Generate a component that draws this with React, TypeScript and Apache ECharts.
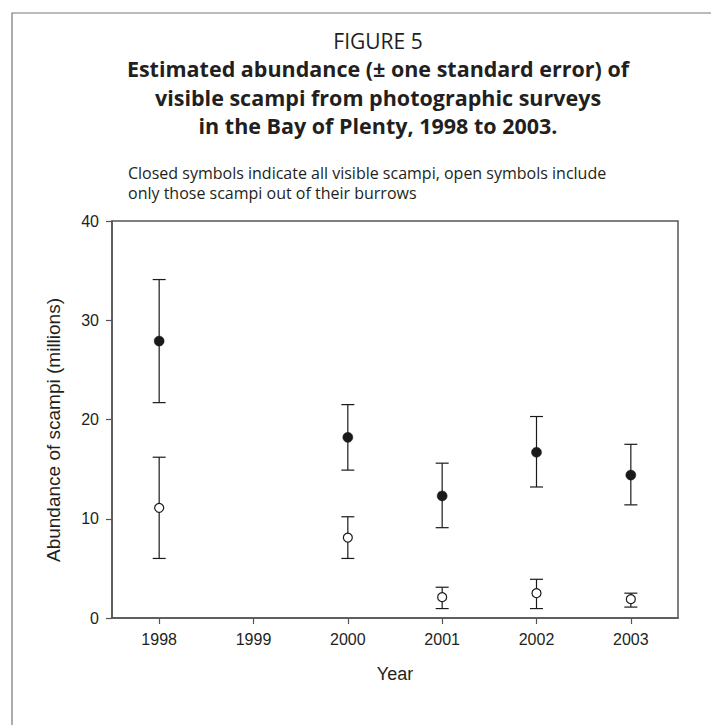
import React, { useEffect, useRef } from "react";
import * as echarts from "echarts";

const years = ["1998", "1999", "2000", "2001", "2002", "2003"];
const dataYears = ["1998", "2000", "2001", "2002", "2003"];
const closedMean = [27.9, 18.2, 12.3, 16.7, 14.4];
const closedLow = [21.7, 14.9, 9.1, 13.2, 11.4];
const closedHigh = [34.1, 21.5, 15.6, 20.3, 17.5];
const openMean = [11.1, 8.1, 2.1, 2.5, 1.9];
const openLow = [6.0, 6.0, 0.95, 0.95, 1.1];
const openHigh = [16.2, 10.2, 3.1, 3.9, 2.5];
const yTicks = [0, 10, 20, 30, 40];

const figureLabel = "FIGURE 5";
const titleLines = [
  "Estimated abundance (± one standard error) of",
  "visible scampi from photographic surveys",
  "in the Bay of Plenty, 1998 to 2003.",
];
const noteLines = [
  "Closed symbols indicate all visible scampi, open symbols include",
  "only those scampi out of their burrows",
];
const yName = "Abundance of scampi (millions)";
const xName = "Year";

const TEXT = "#231f20";
const AXIS = "#555555";
const SANS = "'Open Sans', 'Noto Sans', sans-serif";
const ARIAL = "'Liberation Sans', Arial, sans-serif";

function errorBarSeries(low: number[], high: number[]) {
  const data = dataYears.map((y, i) => [y, low[i], high[i]]);
  return {
    type: "custom",
    data,
    z: 2,
    encode: { x: 0, y: [1, 2] },
    renderItem: (params: any, api: any) => {
      const x = api.value(0);
      const lo = api.coord([x, api.value(1)]);
      const hi = api.coord([x, api.value(2)]);
      const hw = 6.5;
      const style = { stroke: "#1a1a1a", lineWidth: 1.2 };
      return {
        type: "group",
        children: [
          { type: "line", shape: { x1: lo[0], y1: lo[1], x2: hi[0], y2: hi[1] }, style },
          { type: "line", shape: { x1: lo[0] - hw, y1: lo[1], x2: lo[0] + hw, y2: lo[1] }, style },
          { type: "line", shape: { x1: hi[0] - hw, y1: hi[1], x2: hi[0] + hw, y2: hi[1] }, style },
        ],
      };
    },
  };
}

export default function App() {
  const ref = useRef<HTMLDivElement>(null);
  useEffect(() => {
    if (!ref.current) return;
    const chart = echarts.init(ref.current, undefined, { renderer: "svg" });
    const graphics: any[] = [
      {
        type: "rect",
        shape: { x: 12, y: 13, width: 740, height: 760 },
        style: { fill: "none", stroke: "#777777", lineWidth: 1.2 },
        silent: true,
      },
      {
        type: "text",
        x: 378,
        y: 40.5,
        style: { text: figureLabel, font: `400 21px ${SANS}`, fill: TEXT, align: "center", verticalAlign: "middle" },
      },
    ];
    const titleBase = [77, 105.5, 134];
    titleLines.forEach((t, i) => {
      graphics.push({
        type: "text",
        x: 378,
        y: titleBase[i] - 8.2,
        style: { text: t, font: `700 21.5px ${SANS}`, fill: TEXT, align: "center", verticalAlign: "middle" },
      });
    });
    const noteBase = [179, 199];
    noteLines.forEach((t, i) => {
      graphics.push({
        type: "text",
        x: 128,
        y: noteBase[i] - 6,
        style: { text: t, font: `400 16px ${SANS}`, fill: TEXT, align: "left", verticalAlign: "middle" },
      });
    });
    graphics.push({
      type: "text",
      x: 53,
      y: 430,
      rotation: Math.PI / 2,
      style: { text: yName, font: `400 19px ${ARIAL}`, fill: TEXT, align: "center", verticalAlign: "middle" },
    });

    chart.setOption({
      animation: false,
      backgroundColor: "#ffffff",
      grid: {
        left: 112,
        right: 33,
        top: 221,
        bottom: 107,
        show: true,
        borderColor: AXIS,
        borderWidth: 1.5,
        backgroundColor: "transparent",
      },
      xAxis: {
        type: "category",
        data: years,
        boundaryGap: true,
        axisLine: { show: true, lineStyle: { color: AXIS, width: 1.5 } },
        axisTick: { show: true, alignWithLabel: true, length: 6, lineStyle: { color: AXIS, width: 1.2 } },
        axisLabel: { color: TEXT, fontSize: 16, fontFamily: ARIAL, margin: 13 },
        splitLine: { show: false },
        name: xName,
        nameLocation: "middle",
        nameGap: 47,
        nameTextStyle: { color: TEXT, fontSize: 18, fontFamily: ARIAL },
      },
      yAxis: {
        type: "value",
        min: yTicks[0],
        max: yTicks[yTicks.length - 1],
        interval: 10,
        axisLine: { show: true, lineStyle: { color: AXIS, width: 1.5 } },
        axisTick: { show: true, length: 6, lineStyle: { color: AXIS, width: 1.2 } },
        axisLabel: { color: TEXT, fontSize: 16, fontFamily: ARIAL, margin: 13 },
        splitLine: { show: false },
      },
      graphic: graphics,
      series: [
        errorBarSeries(closedLow, closedHigh),
        errorBarSeries(openLow, openHigh),
        {
          type: "scatter",
          z: 3,
          data: dataYears.map((y, i) => [y, closedMean[i]]),
          symbol: "circle",
          symbolSize: 10,
          itemStyle: { color: "#1a1a1a", borderColor: "#1a1a1a", borderWidth: 0.5, opacity: 1 },
        },
        {
          type: "scatter",
          z: 3,
          data: dataYears.map((y, i) => [y, openMean[i]]),
          symbol: "circle",
          symbolSize: 9,
          itemStyle: { color: "#ffffff", borderColor: "#1a1a1a", borderWidth: 1.2, opacity: 1 },
        },
      ],
    });
    return () => chart.dispose();
  }, []);
  return (
    <div
      ref={ref}
      style={{ position: "fixed", left: 0, top: 0, width: 711, height: 725, background: "#fff" }}
    />
  );
}
